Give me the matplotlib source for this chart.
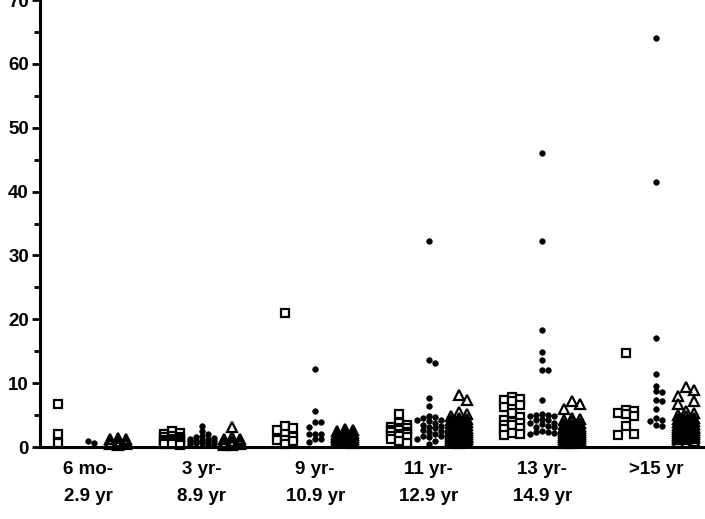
import numpy as np
import matplotlib
matplotlib.use("Agg")
import matplotlib.pyplot as plt

# --- data ---
categories = ["6 mo-\n2.9 yr", "3 yr-\n8.9 yr", "9 yr-\n10.9 yr",
              "11 yr-\n12.9 yr", "13 yr-\n14.9 yr", ">15 yr"]

squares = [
    [6.7, 2.0, 0.7],
    [2.5, 2.2, 2.0, 1.8, 1.6, 1.5, 1.3, 1.2, 1.1, 1.0, 0.9, 0.8, 0.7, 0.6, 0.5, 0.4, 0.3],
    [21.0, 3.3, 2.9, 2.6, 1.6, 1.1, 1.1, 1.0, 0.5],
    [5.2, 3.8, 3.5, 3.2, 3.0, 2.9, 2.7, 2.6, 2.4, 2.3, 2.1, 2.0, 1.8, 1.7, 1.5, 1.2, 1.0, 0.6],
    [7.9, 7.5, 7.3, 7.2, 6.5, 6.3, 5.4, 4.7, 4.2, 3.9, 3.7, 3.5, 3.4, 2.9, 2.8, 2.2, 2.1, 1.9],
    [14.7, 5.8, 5.6, 5.3, 5.1, 4.8, 3.3, 2.1, 1.9],
]

dots = [
    [1.0, 0.7],
    [3.3, 2.5, 2.0, 1.7, 1.5, 1.4, 1.3, 1.2, 1.1, 1.0, 1.0, 0.9, 0.8, 0.7, 0.6, 0.5, 0.4, 0.3],
    [12.2, 5.7, 3.9, 3.9, 3.2, 2.1, 2.1, 2.1, 1.25, 1.25, 0.8],
    [32.2, 13.7, 13.2, 7.6, 6.4, 4.8, 4.7, 4.6, 4.3, 4.2, 4.0, 3.8, 3.5, 3.3, 3.2,
     2.9, 2.7, 2.5, 2.3, 2.0, 1.8, 1.7, 1.5, 1.3, 1.0, 0.5],
    [46.0, 32.2, 18.3, 14.9, 13.6, 12.1, 12.0, 7.3, 5.1, 5.0, 5.0, 4.9, 4.8, 4.4, 4.3,
     4.2, 3.8, 3.7, 3.6, 3.3, 3.2, 3.1, 2.5, 2.4, 2.4, 2.2, 2.0],
    [64.0, 41.5, 17.1, 11.4, 9.6, 8.8, 8.6, 7.4, 7.2, 5.9, 4.5, 4.2, 4.0, 3.4, 3.3],
]

triangles = [
    [1.4, 1.3, 1.2, 1.0, 0.9, 0.8, 0.7, 0.6, 0.5, 0.5, 0.4, 0.3],
    [3.2, 1.5, 1.3, 1.2, 1.0, 0.9, 0.8, 0.7, 0.6, 0.5, 0.5, 0.4, 0.3, 0.3],
    [2.8, 2.7, 2.5, 2.4, 2.2, 2.1, 2.0, 1.9, 1.8, 1.7, 1.6, 1.5, 1.4, 1.3, 1.2, 1.1, 1.0, 0.9, 0.8, 0.6],
    [8.1, 7.4, 5.5, 5.1, 4.8, 4.6, 4.4, 4.2, 4.0, 3.9, 3.7, 3.6, 3.4, 3.3, 3.2, 3.0, 2.9,
     2.8, 2.7, 2.6, 2.5, 2.4, 2.3, 2.2, 2.1, 2.0, 1.9, 1.8, 1.7, 1.6, 1.5, 1.4, 1.3, 1.2,
     1.1, 1.0, 0.9, 0.8, 0.6],
    [7.2, 6.7, 6.0, 4.6, 4.4, 4.2, 4.0, 3.8, 3.6, 3.5, 3.3, 3.2, 3.0, 2.9, 2.8, 2.7, 2.6,
     2.5, 2.4, 2.3, 2.2, 2.1, 2.0, 1.9, 1.8, 1.7, 1.6, 1.5, 1.4, 1.3, 1.2, 1.1, 1.0, 0.9,
     0.8, 0.7, 0.6],
    [9.4, 8.9, 8.0, 7.2, 6.7, 5.6, 5.3, 5.0, 4.8, 4.6, 4.4, 4.2, 4.0, 3.9, 3.7, 3.6, 3.5,
     3.3, 3.2, 3.1, 3.0, 2.9, 2.8, 2.7, 2.6, 2.5, 2.4, 2.3, 2.2, 2.1, 2.0, 1.9, 1.8, 1.7,
     1.6, 1.5, 1.4, 1.3, 1.2, 1.0, 0.8],
]

# --- layout ---
PX_X = 113.7          # pixels per category
PX_Y = 447 / 70.0     # pixels per y unit


def swarm(values, center, mark_w, mark_h, max_half):
    """Prism-like column scatter: spread points sideways, capped width."""
    step = mark_w / PX_X
    slots = [0.0]
    k = 1
    while k * step <= max_half / PX_X + 1e-9:
        slots += [k * step, -k * step]
        k += 1
    placed = []
    xs = []
    for v in values:
        best, best_d = None, -1
        for s in slots:
            d = min([max(abs(s - px) * PX_X / mark_w, abs(v - py) * PX_Y / mark_h)
                     for px, py in placed] or [9])
            if d >= 1:
                best = s
                break
            if d > best_d:
                best, best_d = s, d
        placed.append((best, v))
        xs.append(center + best)
    return xs


fig = plt.figure(figsize=(7.05, 5.19), dpi=100)
ax = fig.add_axes([40 / 705, 72 / 519, 665 / 705, 447 / 519])

off = 30 / PX_X
for i in range(len(categories)):
    xs = swarm(squares[i], i - off, 8, 8, 13)
    ax.plot(xs, squares[i], ls="none", marker="s", ms=5.5, mfc="white", mec="black",
            mew=1.6, clip_on=False)
    xs = swarm(dots[i], i, 6, 5, 16)
    ax.plot(xs, dots[i], ls="none", marker="o", ms=4, mfc="black", mec="black",
            mew=0.5, clip_on=False)
    xs = swarm(triangles[i], i + off, 8, 7, 14)
    ax.plot(xs, triangles[i], ls="none", marker="^", ms=7, mfc="none", mec="black",
            mew=1.6, clip_on=False)

ax.set_xlim(-48 / PX_X, 5 + 49 / PX_X)
ax.set_ylim(0, 70)

for s in ["top", "right"]:
    ax.spines[s].set_visible(False)
for s in ["left", "bottom"]:
    ax.spines[s].set_linewidth(2.2)

ax.set_yticks(range(0, 71, 10))
ax.set_yticks(range(5, 70, 10), minor=True)
ax.tick_params(axis="y", which="major", length=6, width=2, pad=2)
ax.tick_params(axis="y", which="minor", length=4, width=2)
ax.set_xticks(range(len(categories)))
ax.set_xticklabels(categories, linespacing=1.75)
ax.tick_params(axis="x", length=0, pad=10)

for lab in ax.get_yticklabels():
    lab.set_fontfamily("Liberation Sans")
    lab.set_fontweight("bold")
    lab.set_fontsize(13.5)
for lab in ax.get_xticklabels():
    lab.set_fontfamily("Liberation Sans")
    lab.set_fontweight("bold")
    lab.set_fontsize(13.5)
    lab.set_verticalalignment("top")

fig.savefig("out.png", dpi=100)
